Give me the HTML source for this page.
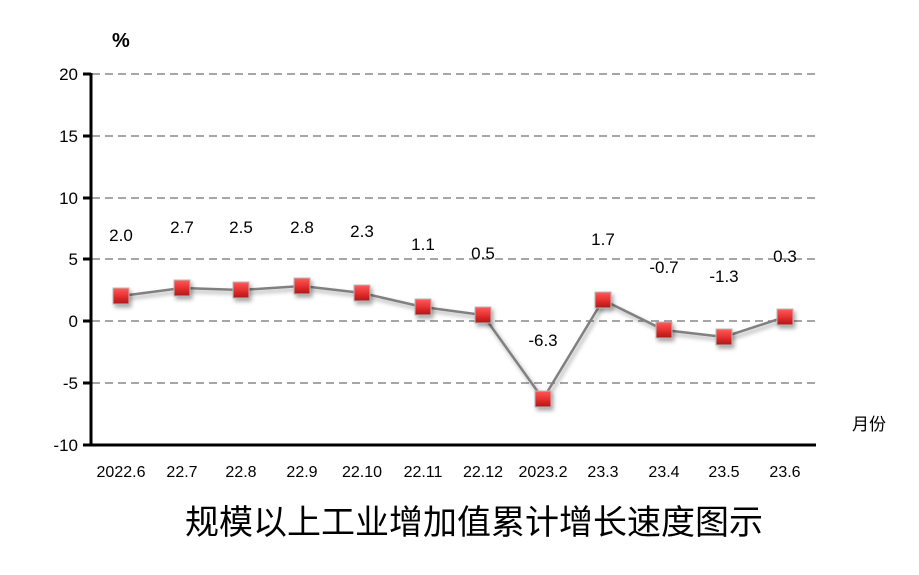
<!DOCTYPE html>
<html><head><meta charset="utf-8"><style>
body{margin:0;background:#fff}
text{font-family:"Liberation Sans","Noto Sans CJK SC",sans-serif}
</style></head><body>
<svg width="919" height="570" xmlns="http://www.w3.org/2000/svg">
<defs>
<linearGradient id="g" x1="0" y1="0" x2="0" y2="1">
<stop offset="0" stop-color="#ff5a5a"/><stop offset="0.6" stop-color="#e02a2a"/><stop offset="1" stop-color="#a81818"/>
</linearGradient>
<filter id="s" x="-50%" y="-50%" width="200%" height="200%"><feDropShadow dx="2" dy="3" stdDeviation="2" flood-color="#000" flood-opacity="0.35"/></filter>
</defs>
<g stroke="#888" stroke-width="1.5" stroke-dasharray="8,5">
<line x1="92" y1="74" x2="816" y2="74"/>
<line x1="92" y1="136" x2="816" y2="136"/>
<line x1="92" y1="198" x2="816" y2="198"/>
<line x1="92" y1="259" x2="816" y2="259"/>
<line x1="92" y1="321" x2="816" y2="321"/>
<line x1="92" y1="383" x2="816" y2="383"/>
</g>
<g stroke="#000" stroke-width="3">
<line x1="91" y1="73" x2="91" y2="446"/>
<line x1="90" y1="445" x2="816" y2="445"/>
<line x1="83" y1="74" x2="91" y2="74"/>
<line x1="83" y1="136" x2="91" y2="136"/>
<line x1="83" y1="198" x2="91" y2="198"/>
<line x1="83" y1="259" x2="91" y2="259"/>
<line x1="83" y1="321" x2="91" y2="321"/>
<line x1="83" y1="383" x2="91" y2="383"/>
<line x1="83" y1="445" x2="91" y2="445"/>
</g>
<g font-size="17" text-anchor="end" fill="#000">
<text x="78" y="80">20</text><text x="78" y="142">15</text><text x="78" y="204">10</text>
<text x="78" y="265">5</text><text x="78" y="327">0</text><text x="78" y="389">-5</text><text x="78" y="451">-10</text>
</g>
<text x="112" y="47" font-size="20" font-weight="bold">%</text>
<text x="852" y="430" font-size="17">月份</text>
<polyline fill="none" stroke="#808080" stroke-width="2.5" filter="url(#s)" points="121,296 182,288 241,290 302,286 362,293 423,307 483,315 543,399 603,300 664,330 724,337 785,317"/>
<g fill="url(#g)" stroke="#bbb" stroke-width="1" filter="url(#s)">
<rect x="113" y="288" width="16" height="16"/>
<rect x="174" y="280" width="16" height="16"/>
<rect x="233" y="282" width="16" height="16"/>
<rect x="294" y="278" width="16" height="16"/>
<rect x="354" y="285" width="16" height="16"/>
<rect x="415" y="299" width="16" height="16"/>
<rect x="475" y="307" width="16" height="16"/>
<rect x="535" y="391" width="16" height="16"/>
<rect x="595" y="292" width="16" height="16"/>
<rect x="656" y="322" width="16" height="16"/>
<rect x="716" y="329" width="16" height="16"/>
<rect x="777" y="309" width="16" height="16"/>
</g>
<g font-size="17" text-anchor="middle" fill="#000">
<text x="121" y="241">2.0</text><text x="182" y="233">2.7</text><text x="241" y="233">2.5</text>
<text x="302" y="233">2.8</text><text x="362" y="237">2.3</text><text x="423" y="250">1.1</text>
<text x="483" y="259">0.5</text><text x="543" y="346">-6.3</text><text x="603" y="245">1.7</text>
<text x="664" y="273">-0.7</text><text x="724" y="282">-1.3</text><text x="785" y="262">0.3</text>
</g>
<g font-size="16" text-anchor="middle" fill="#000">
<text x="121" y="477">2022.6</text><text x="182" y="477">22.7</text><text x="241" y="477">22.8</text>
<text x="302" y="477">22.9</text><text x="362" y="477">22.10</text><text x="423" y="477">22.11</text>
<text x="483" y="477">22.12</text><text x="543" y="477">2023.2</text><text x="603" y="477">23.3</text>
<text x="664" y="477">23.4</text><text x="724" y="477">23.5</text><text x="785" y="477">23.6</text>
</g>
<text x="474" y="534" font-size="34" text-anchor="middle" font-family="'Noto Sans CJK SC',sans-serif">规模以上工业增加值累计增长速度图示</text>
</svg>
</body></html>
